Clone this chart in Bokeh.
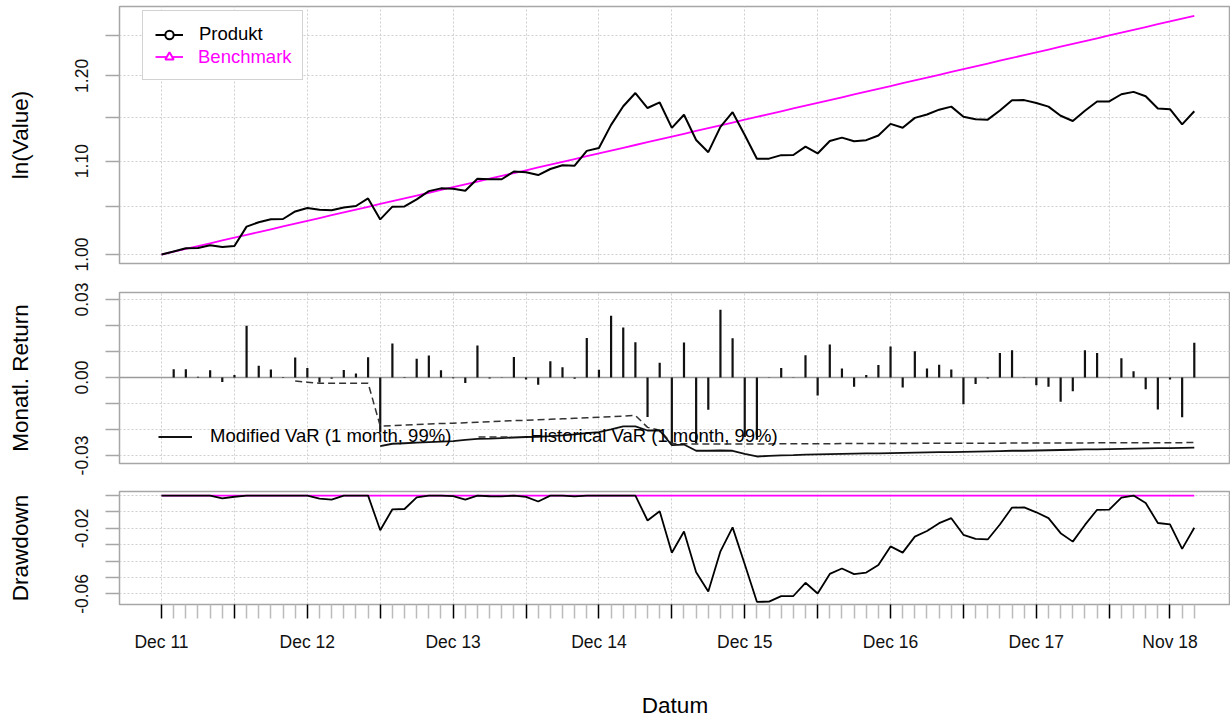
import numpy as np
from bokeh.plotting import figure
from bokeh.layouts import column
from bokeh.models import Range1d, FixedTicker, Span, Legend, LegendItem
from bokeh.embed import file_html
from bokeh.resources import INLINE

# ---------------- data ----------------
# monthly returns of "Produkt", Jan 2012 .. Jan 2019 (first value index = Dec 11 = 1.0)
prod_returns = [
    0.0032, 0.0032, 0.0003, 0.0028, -0.0017, 0.0010, 0.0199, 0.0045, 0.0031, 0.0002,
    0.0077, 0.0036, -0.0019, -0.0005, 0.0029, 0.0015, 0.0078, -0.0212, 0.0131, 0.0002,
    0.0072, 0.0085, 0.0028, -0.0003, -0.0021, 0.0123, -0.0004, -0.0001, 0.0079, -0.0008,
    -0.0028, 0.0062, 0.0039, -0.0005, 0.0152, 0.0030, 0.0238, 0.0192, 0.0136, -0.0152,
    0.0057, -0.0256, 0.0135, -0.0254, -0.0124, 0.0261, 0.0151, -0.0229, -0.0240, 0.0001,
    0.0036, 0.0001, 0.0086, -0.0069, 0.0127, 0.0035, -0.0036, 0.0010, 0.0048, 0.0119,
    -0.0039, 0.0101, 0.0035, 0.0049, 0.0031, -0.0103, -0.0025, -0.0004, 0.0094, 0.0105,
    0.0001, -0.0030, -0.0036, -0.0093, -0.0053, 0.0105, 0.0094, 0.0001, 0.0074, 0.0024,
    -0.0045, -0.0123, -0.0008, -0.0153, 0.0134,
]
# monthly returns of "Benchmark" (steady growth)
bench_returns = [
    0.00287, 0.00287, 0.00287, 0.00287, 0.00287, 0.00287, 0.00287, 0.00287, 0.00287, 0.00287,
    0.00287, 0.00287, 0.00287, 0.00287, 0.00287, 0.00287, 0.00287, 0.00287, 0.00287, 0.00287,
    0.00287, 0.00287, 0.00287, 0.00287, 0.00287, 0.00287, 0.00287, 0.00287, 0.00287, 0.00287,
    0.00287, 0.00287, 0.00287, 0.00287, 0.00287, 0.00287, 0.00287, 0.00287, 0.00287, 0.00287,
    0.00287, 0.00287, 0.00287, 0.00287, 0.00287, 0.00287, 0.00287, 0.00287, 0.00287, 0.00287,
    0.00287, 0.00287, 0.00287, 0.00287, 0.00287, 0.00287, 0.00287, 0.00287, 0.00287, 0.00287,
    0.00287, 0.00287, 0.00287, 0.00287, 0.00287, 0.00287, 0.00287, 0.00287, 0.00287, 0.00287,
    0.00287, 0.00287, 0.00287, 0.00287, 0.00287, 0.00287, 0.00287, 0.00287, 0.00287, 0.00287,
    0.00287, 0.00287, 0.00287, 0.00287, 0.00287,
]
# Historical VaR (1 month, 99%), starting at month index 11
hist_var_start = 11
hist_var = [
    -0.0014, -0.0018, -0.0022, -0.0022, -0.0022, -0.0022, -0.0022, -0.0187, -0.0185, -0.0183,
    -0.0181, -0.0179, -0.0177, -0.0176, -0.0174, -0.0172, -0.0170, -0.0168, -0.0166, -0.0165,
    -0.0163, -0.0161, -0.0159, -0.0157, -0.0155, -0.0153, -0.0151, -0.0149, -0.0146, -0.0192,
    -0.0203, -0.0254, -0.0255, -0.0256, -0.0256, -0.0256, -0.0256, -0.0256, -0.0256, -0.0256,
    -0.0255, -0.0255, -0.0255, -0.0255, -0.0255, -0.0254, -0.0254, -0.0254, -0.0254, -0.0254,
    -0.0254, -0.0254, -0.0253, -0.0253, -0.0253, -0.0253, -0.0253, -0.0253, -0.0253, -0.0252,
    -0.0252, -0.0252, -0.0252, -0.0252, -0.0252, -0.0252, -0.0251, -0.0251, -0.0251, -0.0251,
    -0.0251, -0.0251, -0.0251, -0.0251, -0.0250,
]
# Modified VaR (1 month, 99%), starting at month index 18
mod_var_start = 18
mod_var = [
    -0.0264, -0.0255, -0.0253, -0.0251, -0.0249, -0.0247, -0.0245, -0.0240, -0.0236, -0.0235,
    -0.0233, -0.0231, -0.0229, -0.0228, -0.0226, -0.0223, -0.0219, -0.0214, -0.0210, -0.0200,
    -0.0188, -0.0188, -0.0204, -0.0204, -0.0260, -0.0258, -0.0282, -0.0282, -0.0281, -0.0282,
    -0.0294, -0.0304, -0.0302, -0.0300, -0.0299, -0.0297, -0.0296, -0.0295, -0.0294, -0.0293,
    -0.0292, -0.0292, -0.0291, -0.0290, -0.0289, -0.0288, -0.0287, -0.0287, -0.0286, -0.0285,
    -0.0284, -0.0283, -0.0282, -0.0282, -0.0281, -0.0280, -0.0279, -0.0278, -0.0277, -0.0277,
    -0.0276, -0.0275, -0.0274, -0.0273, -0.0272, -0.0272, -0.0271, -0.0270,
]

x_tick_pos = [0, 6, 12, 18, 24, 30, 36, 42, 48, 54, 60, 66, 72, 78, 83]
x_tick_labels = ["Dec 11", "", "Dec 12", "", "Dec 13", "", "Dec 14", "", "Dec 15", "",
                 "Dec 16", "", "Dec 17", "", "Nov 18"]
top_ticks = [1.0, 1.05, 1.1, 1.15, 1.2, 1.25]
top_tick_labels = ["1.00", "", "1.10", "", "1.20", ""]
ret_ticks = [-0.03, -0.02, -0.01, 0.0, 0.01, 0.02, 0.03]
ret_tick_labels = ["-0.03", "", "", "0.00", "", "", "0.03"]
dd_ticks = [0.0, -0.01, -0.02, -0.03, -0.04, -0.05, -0.06]
dd_tick_labels = ["", "", "-0.02", "", "", "", "-0.06"]

# ---------------- derived series (as the performance chart computes them) -----
n = len(prod_returns) + 1
idx = np.arange(n)
prod_w = np.concatenate([[1.0], np.cumprod(1.0 + np.array(prod_returns))])
bench_w = np.concatenate([[1.0], np.cumprod(1.0 + np.array(bench_returns))])
prod_dd = prod_w / np.maximum.accumulate(prod_w) - 1.0
bench_dd = bench_w / np.maximum.accumulate(bench_w) - 1.0
ret_x = idx[1:]
hist_x = np.arange(hist_var_start, hist_var_start + len(hist_var))
mod_x = np.arange(mod_var_start, mod_var_start + len(mod_var))
minor_x = [int(i) for i in idx if int(i) not in x_tick_pos]

# ---------------- styling ----------------
FONT = "Liberation Sans"
FRAME = "#A6A6A6"
GRID = "#CFCFCF"
MAG = "#FF00FF"
W = 1230
LEFT = 119
xr = Range1d(-3.46, 87.98)


def overrides(ticks, labels):
    d = {}
    for t, l in zip(ticks, labels):
        d[float(t)] = l
    return d


def make_fig(h, yr, top, bottom, ticks, labels, title, ytype="linear", xloc=None):
    p = figure(width=W, height=h, x_range=xr, y_range=yr, y_axis_type=ytype,
               x_axis_location=xloc, output_backend="svg", toolbar_location=None,
               min_border_left=LEFT, min_border_right=0, min_border_top=top,
               min_border_bottom=bottom, background_fill_color="white",
               border_fill_color="white")
    p.outline_line_color = FRAME
    p.outline_line_width = 1.5
    tk = FixedTicker(ticks=ticks)
    p.yaxis.ticker = tk
    p.ygrid.ticker = tk
    p.xgrid.ticker = FixedTicker(ticks=x_tick_pos)
    for g in (p.xgrid[0], p.ygrid[0]):
        g.grid_line_color = GRID
        g.grid_line_dash = "2 2"
        g.grid_line_width = 1
    ax = p.yaxis[0]
    ax.major_label_overrides = overrides(ticks, labels)
    ax.axis_line_color = None
    ax.major_tick_line_color = FRAME
    ax.major_tick_line_width = 1.5
    ax.major_tick_in = 0
    ax.major_tick_out = 14
    ax.minor_tick_line_color = None
    ax.major_label_orientation = "vertical"
    ax.major_label_text_font = FONT
    ax.major_label_text_font_size = "17.5px"
    ax.major_label_text_color = "#111111"
    ax.major_label_standoff = 17
    ax.axis_label = title
    ax.axis_label_text_font = FONT
    ax.axis_label_text_font_size = "22.5px"
    ax.axis_label_text_font_style = "normal"
    ax.axis_label_text_color = "#000000"
    ax.axis_label_standoff = 40
    return p


# ---- top panel: value (log scale) ----
p1 = make_fig(277, Range1d(0.9909, 1.2880), 6, 14, top_ticks, top_tick_labels,
              "ln(Value)", ytype="log")
b_line = p1.line(idx, bench_w, line_color=MAG, line_width=1.8)
p_line = p1.line(idx, prod_w, line_color="black", line_width=2)
# legend-only markers, placed outside the visible x range
p_mark = p1.scatter(x=[-60], y=[1.1], marker="circle", size=7, line_color="black",
                    line_width=2, fill_color="white")
b_mark = p1.scatter(x=[-60], y=[1.1], marker="triangle", size=9, line_color=MAG,
                    line_width=2, fill_color="white")
blank = p1.line(x=[-60, -59], y=[1.1, 1.1], line_alpha=0)

leg_common = dict(location=(23, 183), padding=12, spacing=1, margin=0,
                  glyph_width=28, glyph_height=21, label_height=21,
                  label_standoff=16, label_width=91, label_text_font=FONT,
                  label_text_font_size="18.5px")
legA = Legend(items=[LegendItem(label="Produkt", renderers=[p_line, p_mark]),
                     LegendItem(label=" ", renderers=[b_line, b_mark])],
              border_line_color=FRAME, border_line_width=1.5,
              background_fill_color="white", background_fill_alpha=1.0,
              label_text_color="black", **leg_common)
legB = Legend(items=[LegendItem(label="Benchmark", renderers=[blank])],
              border_line_color="white", border_line_alpha=0.0,
              background_fill_alpha=0.0,
              label_text_color=MAG, **leg_common)
p1.add_layout(legA)
p1.add_layout(legB)

# ---- middle panel: monthly returns with VaR ----
p2 = make_fig(200, Range1d(-0.0331, 0.0327), 15, 14, ret_ticks, ret_tick_labels,
              "Monatl. Return")
zero = Span(location=0, dimension="width", line_color="#9A9A9A", line_width=1.5,
            level="underlay")
p2.add_layout(zero)
p2.segment(x0=ret_x, y0=np.zeros(len(ret_x)), x1=ret_x, y1=prod_returns,
           line_color="#111111", line_width=2.2)
hist_r = p2.line(hist_x, hist_var, line_color="#333333", line_width=1.5,
                 line_dash="7 4")
mod_r = p2.line(mod_x, mod_var, line_color="#111111", line_width=1.8)
legV = Legend(items=[LegendItem(label="Modified VaR (1 month, 99%)", renderers=[mod_r]),
                     LegendItem(label="Historical VaR (1 month, 99%)", renderers=[hist_r])],
              orientation="horizontal", location=(39, 16), padding=0, margin=0,
              spacing=27, glyph_width=34, glyph_height=21, label_height=21,
              label_standoff=18, label_text_font=FONT, label_text_font_size="18.5px",
              label_text_color="black", border_line_color=None,
              background_fill_alpha=0.0)
p2.add_layout(legV)

# ---- bottom panel: drawdown ----
p3 = make_fig(243, Range1d(-0.0665, 0.0025), 14, 112, dd_ticks, dd_tick_labels,
              "Drawdown", xloc="below")
p3.line(idx, bench_dd, line_color=MAG, line_width=1.8)
p3.line(idx, prod_dd, line_color="black", line_width=1.8)
xa = p3.xaxis[0]
xa.ticker = FixedTicker(ticks=x_tick_pos, minor_ticks=minor_x)
xa.major_label_overrides = {int(t): l for t, l in zip(x_tick_pos, x_tick_labels)}
xa.axis_line_color = None
xa.major_tick_line_color = "black"
xa.major_tick_line_width = 1.5
xa.minor_tick_line_color = "#BBBBBB"
xa.minor_tick_line_width = 1.5
xa.major_tick_in = 0
xa.major_tick_out = 14
xa.minor_tick_in = 0
xa.minor_tick_out = 14
xa.major_label_text_font = FONT
xa.major_label_text_font_size = "17.5px"
xa.major_label_text_color = "#111111"
xa.major_label_standoff = 13
xa.axis_label = "Datum"
xa.axis_label_text_font = FONT
xa.axis_label_text_font_size = "22.5px"
xa.axis_label_text_font_style = "normal"
xa.axis_label_text_color = "#000000"
xa.axis_label_standoff = 38

layout = column(p1, p2, p3, spacing=0)
open("out.html", "w").write(file_html(layout, INLINE))
